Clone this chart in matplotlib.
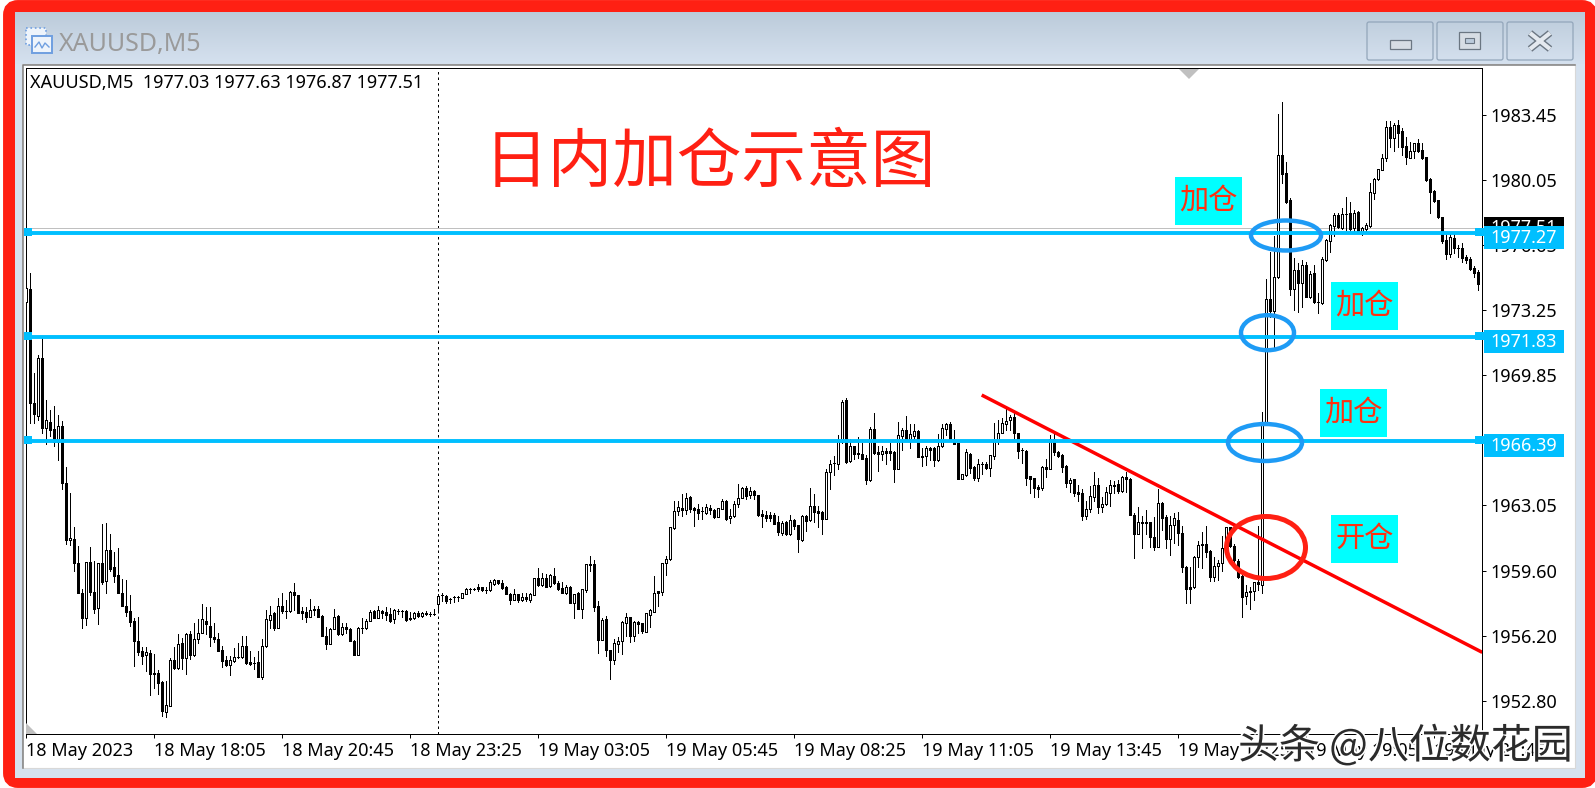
"""Recreate the XAUUSD M5 intraday position-adding chart."""

import numpy as np
import matplotlib
matplotlib.use('Agg')
import matplotlib.pyplot as plt
from matplotlib import patches
from matplotlib import patheffects

W, H = 1595, 788
CJK = ['Noto Sans CJK SC', 'DejaVu Sans']
UI_FONT = ['Noto Sans', 'DejaVu Sans']

opens = [
    1973.67, 1974.35, 1968.35, 1967.7, 1970.7, 1967.08, 1967.37, 1967.0, 1966.33, 1967.15,
    1964.2, 1961.19, 1961.26, 1959.97, 1958.4, 1957.12, 1960.03, 1958.5, 1957.64, 1959.97,
    1959.04, 1960.69, 1959.76, 1959.38, 1958.45, 1957.77, 1957.46, 1956.96, 1955.94, 1955.4,
    1955.17, 1955.31, 1954.26, 1954.26, 1953.76, 1952.2, 1952.54, 1954.9, 1954.51, 1955.8,
    1955.05, 1956.3, 1955.17, 1956.0, 1956.34, 1956.96, 1956.71, 1956.12, 1956.03, 1955.46,
    1954.94, 1954.65, 1954.87, 1955.1, 1955.1, 1955.67, 1954.83, 1954.78, 1954.83, 1954.04,
    1955.64, 1957.01, 1957.37, 1956.62, 1957.77, 1957.5, 1957.46, 1958.5, 1958.32, 1957.46,
    1957.41, 1957.19, 1957.61, 1957.61, 1957.2, 1956.18, 1955.76, 1956.53, 1957.2, 1956.27,
    1956.66, 1956.52, 1955.94, 1955.19, 1956.62, 1956.58, 1956.98, 1957.46, 1957.12, 1957.5,
    1957.41, 1957.34, 1957.07, 1957.46, 1957.46, 1957.48, 1957.1, 1957.1, 1957.37, 1957.22,
    1957.36, 1957.34, 1957.34, 1957.86, 1958.3, 1958.26, 1958.11, 1958.21, 1958.21, 1958.18,
    1958.39, 1958.66, 1958.65, 1958.72, 1958.72, 1958.58, 1958.56, 1958.91, 1959.08, 1958.96,
    1958.75, 1958.39, 1958.07, 1958.35, 1958.05, 1958.19, 1958.04, 1958.33, 1959.19, 1958.86,
    1959.2, 1958.79, 1959.33, 1958.96, 1958.7, 1958.42, 1958.72, 1957.88, 1958.4, 1957.6,
    1958.58, 1959.92, 1959.94, 1957.72, 1955.98, 1957.04, 1955.44, 1954.92, 1955.77, 1955.93,
    1956.87, 1957.15, 1956.19, 1956.92, 1956.83, 1956.4, 1957.27, 1957.44, 1958.53, 1958.49,
    1959.97, 1960.18, 1961.82, 1962.74, 1962.85, 1962.78, 1963.44, 1962.85, 1962.81, 1962.7,
    1962.59, 1962.85, 1962.76, 1962.41, 1962.83, 1963.23, 1962.33, 1962.47, 1963.09, 1963.42,
    1963.91, 1963.53, 1963.76, 1963.55, 1962.55, 1962.5, 1962.5, 1962.5, 1962.12, 1961.58,
    1962.13, 1961.51, 1962.26, 1961.96, 1961.19, 1962.45, 1962.22, 1963.0, 1962.74, 1962.66,
    1962.31, 1964.73, 1965.2, 1965.18, 1966.32, 1968.51, 1965.32, 1966.13, 1965.73, 1965.69,
    1965.48, 1964.33, 1966.98, 1965.78, 1965.71, 1965.83, 1965.85, 1965.79, 1964.92, 1966.65,
    1966.93, 1966.49, 1966.65, 1966.89, 1965.59, 1965.59, 1966.0, 1965.99, 1965.38, 1966.11,
    1967.01, 1967.26, 1966.44, 1966.25, 1964.41, 1964.59, 1965.72, 1965.04, 1964.45, 1965.19,
    1965.17, 1964.98, 1965.6, 1966.44, 1966.82, 1967.29, 1967.45, 1967.61, 1966.77, 1965.9,
    1965.85, 1964.52, 1964.42, 1963.95, 1963.91, 1965.03, 1964.92, 1966.46, 1965.78, 1965.62,
    1965.06, 1964.19, 1964.38, 1963.7, 1963.65, 1962.46, 1962.8, 1963.46, 1964.05, 1962.93,
    1963.07, 1963.67, 1964.1, 1964.12, 1963.77, 1964.47, 1964.38, 1962.53, 1961.52, 1962.12,
    1962.12, 1962.12, 1961.37, 1960.84, 1963.11, 1962.39, 1961.23, 1962.0, 1962.22, 1961.54,
    1959.78, 1958.72, 1958.72, 1960.29, 1960.97, 1960.97, 1960.64, 1959.28, 1959.84, 1959.98,
    1960.74, 1961.86, 1960.88, 1960.12, 1959.32, 1958.29, 1958.53, 1958.55, 1959.02, 1958.84,
    1967.35, 1973.8, 1973.17, 1974.93, 1981.32, 1980.37, 1978.98, 1974.34, 1975.32, 1974.66,
    1975.58, 1973.92, 1975.18, 1973.66, 1973.57, 1975.84, 1976.85, 1977.62, 1978.2, 1977.53,
    1978.25, 1978.28, 1977.53, 1978.37, 1977.27, 1977.45, 1977.62, 1979.36, 1980.06, 1980.55,
    1981.19, 1982.78, 1982.22, 1982.89, 1982.57, 1981.8, 1981.19, 1981.56, 1981.94, 1981.59,
    1981.21, 1980.08, 1979.45, 1978.96, 1978.07, 1976.89, 1976.14, 1976.97, 1976.49, 1976.49,
    1975.98, 1975.91, 1975.44, 1975.21,
]
highs = [
    1974.39, 1975.14, 1969.95, 1970.9, 1971.88, 1968.53, 1968.0, 1968.19, 1967.73, 1967.44,
    1965.04, 1963.68, 1961.89, 1960.9, 1958.63, 1960.03, 1960.83, 1960.1, 1959.97, 1962.03,
    1962.07, 1961.53, 1960.56, 1960.78, 1959.16, 1959.11, 1958.31, 1957.1, 1957.19, 1955.58,
    1955.58, 1955.46, 1955.22, 1954.42, 1953.83, 1953.83, 1955.0, 1955.58, 1956.26, 1956.08,
    1956.34, 1956.43, 1956.84, 1957.05, 1957.87, 1957.7, 1957.68, 1956.84, 1956.34, 1955.64,
    1955.14, 1955.14, 1955.53, 1955.8, 1956.16, 1956.16, 1955.4, 1955.08, 1955.37, 1956.03,
    1957.55, 1957.73, 1957.41, 1958.18, 1958.45, 1958.05, 1958.54, 1958.93, 1958.32, 1957.68,
    1957.7, 1958.09, 1957.73, 1957.73, 1957.28, 1956.66, 1956.6, 1957.61, 1957.28, 1956.84,
    1956.84, 1956.57, 1955.98, 1956.66, 1957.14, 1957.05, 1957.55, 1957.55, 1957.73, 1957.55,
    1957.68, 1957.64, 1957.59, 1957.6, 1957.53, 1957.51, 1957.41, 1957.44, 1957.46, 1957.41,
    1957.46, 1957.41, 1957.57, 1958.37, 1958.4, 1958.3, 1958.14, 1958.28, 1958.26, 1958.44,
    1958.68, 1958.67, 1958.67, 1958.87, 1958.75, 1958.72, 1959.08, 1959.15, 1959.1, 1959.08,
    1958.79, 1958.42, 1958.61, 1958.37, 1958.44, 1958.4, 1958.4, 1959.19, 1959.73, 1959.48,
    1959.41, 1959.41, 1959.73, 1959.07, 1959.01, 1958.84, 1958.8, 1958.39, 1958.49, 1958.66,
    1959.94, 1960.36, 1960.15, 1958.0, 1957.1, 1957.22, 1955.44, 1956.0, 1956.1, 1956.96,
    1957.36, 1957.18, 1956.94, 1956.96, 1956.87, 1957.39, 1957.6, 1959.34, 1958.53, 1960.02,
    1960.36, 1961.86, 1963.23, 1963.23, 1963.6, 1963.65, 1963.48, 1962.94, 1963.08, 1962.94,
    1963.06, 1963.01, 1962.83, 1962.85, 1963.34, 1963.27, 1962.8, 1963.23, 1964.12, 1963.98,
    1964.02, 1963.98, 1963.81, 1963.55, 1962.76, 1962.73, 1962.67, 1962.59, 1962.47, 1962.17,
    1962.17, 1962.5, 1962.29, 1961.96, 1962.5, 1962.5, 1963.91, 1963.58, 1963.0, 1962.71,
    1964.89, 1965.38, 1965.59, 1966.68, 1968.51, 1968.65, 1966.46, 1966.14, 1966.6, 1966.25,
    1965.64, 1967.12, 1967.82, 1966.11, 1966.14, 1966.0, 1966.25, 1965.86, 1967.35, 1967.03,
    1967.68, 1967.26, 1967.26, 1966.94, 1965.99, 1966.14, 1966.07, 1966.07, 1966.72, 1967.26,
    1967.33, 1967.35, 1966.94, 1966.25, 1964.65, 1965.95, 1965.76, 1965.08, 1965.46, 1965.29,
    1965.29, 1965.66, 1967.33, 1967.47, 1967.56, 1968.17, 1967.73, 1967.9, 1966.81, 1965.99,
    1965.93, 1964.54, 1964.45, 1964.07, 1965.06, 1965.41, 1966.68, 1966.86, 1965.86, 1965.72,
    1965.1, 1964.42, 1964.4, 1964.07, 1963.86, 1963.25, 1964.02, 1964.73, 1964.42, 1963.46,
    1963.98, 1964.33, 1964.28, 1964.33, 1964.54, 1964.77, 1964.42, 1962.59, 1962.93, 1962.45,
    1962.76, 1962.15, 1962.41, 1963.86, 1963.2, 1962.53, 1962.45, 1962.59, 1962.67, 1961.94,
    1959.83, 1959.8, 1960.36, 1961.14, 1961.6, 1961.93, 1960.67, 1960.29, 1960.15, 1961.41,
    1961.9, 1961.9, 1960.99, 1960.19, 1959.37, 1958.84, 1958.76, 1959.02, 1961.93, 1967.89,
    1974.83, 1976.28, 1977.1, 1983.48, 1984.09, 1980.95, 1979.07, 1975.93, 1975.67, 1975.84,
    1975.75, 1975.28, 1975.58, 1974.1, 1976.0, 1976.92, 1977.72, 1978.28, 1978.28, 1978.54,
    1979.15, 1978.89, 1978.46, 1978.42, 1977.58, 1977.8, 1979.85, 1980.11, 1980.62, 1981.37,
    1983.11, 1983.13, 1982.99, 1983.16, 1982.75, 1982.26, 1982.03, 1981.98, 1982.15, 1981.94,
    1981.25, 1980.11, 1979.5, 1978.98, 1978.11, 1977.24, 1977.29, 1977.24, 1976.63, 1976.75,
    1976.1, 1976.0, 1975.53, 1975.32,
]
lows = [
    1973.23, 1967.31, 1967.31, 1967.46, 1966.78, 1966.2, 1966.65, 1966.1, 1965.4, 1963.87,
    1961.0, 1960.92, 1959.6, 1958.41, 1956.57, 1956.75, 1958.3, 1957.37, 1956.8, 1958.9,
    1958.4, 1959.56, 1959.02, 1958.45, 1957.73, 1957.2, 1956.69, 1954.6, 1955.17, 1954.69,
    1954.37, 1953.07, 1953.47, 1953.16, 1952.0, 1951.95, 1952.54, 1954.45, 1954.47, 1954.47,
    1954.19, 1954.96, 1955.13, 1955.8, 1956.34, 1956.27, 1955.64, 1955.85, 1955.37, 1954.54,
    1954.6, 1954.11, 1954.8, 1955.05, 1955.05, 1954.69, 1954.65, 1954.47, 1954.04, 1953.94,
    1955.58, 1956.57, 1956.48, 1956.62, 1957.37, 1957.1, 1957.43, 1957.55, 1957.37, 1957.07,
    1956.93, 1957.15, 1957.25, 1957.17, 1956.18, 1955.49, 1955.76, 1956.53, 1956.21, 1956.21,
    1956.34, 1955.9, 1955.19, 1955.19, 1956.34, 1956.53, 1956.94, 1957.1, 1957.1, 1957.1,
    1957.0, 1956.89, 1956.87, 1957.32, 1957.18, 1956.97, 1957.01, 1957.06, 1957.15, 1957.15,
    1957.25, 1957.24, 1957.25, 1957.5, 1958.02, 1957.88, 1957.92, 1957.98, 1958.02, 1958.14,
    1958.37, 1958.4, 1958.58, 1958.51, 1958.54, 1958.4, 1958.53, 1958.86, 1958.91, 1958.65,
    1958.37, 1957.85, 1958.05, 1957.97, 1958.0, 1958.02, 1957.97, 1958.3, 1958.79, 1958.79,
    1958.73, 1958.75, 1958.87, 1958.58, 1958.4, 1958.37, 1957.88, 1957.13, 1957.6, 1957.13,
    1958.49, 1959.59, 1957.5, 1955.3, 1955.96, 1955.13, 1953.94, 1954.71, 1955.32, 1955.23,
    1956.17, 1955.88, 1955.91, 1956.31, 1956.31, 1956.38, 1956.66, 1957.43, 1957.74, 1958.32,
    1959.36, 1960.15, 1961.75, 1962.5, 1962.47, 1962.55, 1962.64, 1961.93, 1962.27, 1962.27,
    1962.55, 1962.55, 1962.33, 1962.4, 1962.8, 1962.24, 1962.1, 1962.41, 1962.9, 1963.37,
    1963.34, 1963.37, 1963.34, 1962.47, 1961.89, 1962.2, 1962.2, 1962.03, 1961.44, 1961.44,
    1961.47, 1961.45, 1961.75, 1960.58, 1961.16, 1961.68, 1962.19, 1962.15, 1961.89, 1961.52,
    1962.27, 1963.86, 1964.59, 1964.92, 1966.28, 1965.2, 1965.27, 1965.46, 1965.48, 1965.45,
    1964.12, 1964.3, 1965.71, 1964.8, 1965.38, 1965.17, 1965.38, 1964.23, 1964.89, 1965.92,
    1966.42, 1966.0, 1966.42, 1965.52, 1965.06, 1965.11, 1965.38, 1965.08, 1965.34, 1966.07,
    1966.68, 1966.35, 1966.2, 1964.4, 1964.4, 1964.56, 1964.71, 1964.36, 1964.28, 1964.63,
    1964.92, 1964.54, 1965.45, 1966.21, 1966.79, 1966.94, 1966.94, 1966.42, 1965.5, 1965.2,
    1964.05, 1963.63, 1963.46, 1963.46, 1963.81, 1964.5, 1964.89, 1965.64, 1965.52, 1964.77,
    1963.98, 1963.72, 1963.51, 1963.25, 1962.24, 1962.29, 1962.67, 1963.25, 1962.62, 1962.66,
    1963.02, 1962.97, 1963.67, 1963.67, 1963.72, 1963.72, 1962.52, 1960.25, 1961.5, 1960.76,
    1961.5, 1960.85, 1960.7, 1960.81, 1961.71, 1960.76, 1960.41, 1961.02, 1960.93, 1959.54,
    1957.92, 1957.92, 1958.68, 1959.76, 1959.72, 1960.33, 1959.05, 1959.05, 1959.1, 1959.59,
    1960.71, 1960.85, 1959.98, 1959.19, 1957.15, 1957.85, 1957.59, 1958.06, 1958.58, 1958.44,
    1967.2, 1972.88, 1971.31, 1974.88, 1979.85, 1978.8, 1974.01, 1973.23, 1973.14, 1973.4,
    1973.89, 1973.84, 1973.61, 1973.09, 1973.54, 1975.81, 1976.28, 1977.09, 1977.5, 1977.45,
    1977.41, 1977.38, 1977.38, 1977.24, 1977.15, 1977.32, 1977.58, 1979.03, 1980.03, 1980.55,
    1981.04, 1981.77, 1981.54, 1981.77, 1981.33, 1980.86, 1981.16, 1981.16, 1981.51, 1981.14,
    1980.0, 1978.28, 1978.89, 1978.06, 1976.71, 1975.88, 1976.0, 1976.19, 1976.0, 1975.75,
    1975.67, 1975.32, 1974.97, 1974.27,
]
closes = [
    1974.39, 1968.34, 1967.8, 1970.7, 1967.08, 1967.46, 1966.97, 1966.33, 1967.15, 1964.2,
    1961.2, 1961.3, 1960.0, 1958.41, 1957.12, 1960.03, 1958.48, 1957.59, 1959.97, 1959.02,
    1960.69, 1959.7, 1959.34, 1958.45, 1957.73, 1957.41, 1956.89, 1955.94, 1955.35, 1955.13,
    1955.35, 1954.19, 1954.19, 1953.72, 1952.27, 1952.59, 1954.9, 1954.51, 1955.76, 1955.01,
    1956.3, 1955.17, 1956.03, 1956.34, 1957.05, 1956.78, 1956.12, 1956.0, 1955.37, 1954.87,
    1954.65, 1954.9, 1955.1, 1955.08, 1955.67, 1954.78, 1954.72, 1954.76, 1954.04, 1955.67,
    1957.05, 1957.28, 1956.62, 1957.77, 1957.46, 1957.48, 1958.5, 1958.32, 1957.37, 1957.37,
    1957.17, 1957.55, 1957.53, 1957.17, 1956.18, 1955.76, 1956.52, 1957.17, 1956.27, 1956.66,
    1956.52, 1955.94, 1955.19, 1956.62, 1956.6, 1956.98, 1957.45, 1957.12, 1957.52, 1957.37,
    1957.25, 1956.98, 1957.55, 1957.46, 1957.46, 1957.01, 1957.04, 1957.39, 1957.2, 1957.36,
    1957.34, 1957.33, 1957.33, 1958.26, 1958.3, 1958.0, 1958.09, 1958.2, 1958.2, 1958.4,
    1958.61, 1958.66, 1958.65, 1958.61, 1958.58, 1958.57, 1958.98, 1959.08, 1958.94, 1958.7,
    1958.39, 1958.07, 1958.35, 1958.07, 1958.19, 1958.11, 1958.35, 1959.19, 1958.86, 1959.19,
    1958.75, 1959.38, 1958.94, 1958.63, 1958.44, 1958.73, 1957.92, 1958.39, 1957.6, 1958.63,
    1959.94, 1959.9, 1957.71, 1955.98, 1956.99, 1955.44, 1954.92, 1955.79, 1955.93, 1956.89,
    1957.15, 1956.19, 1956.9, 1956.8, 1956.43, 1957.36, 1957.53, 1958.4, 1958.4, 1959.99,
    1960.18, 1961.86, 1962.74, 1962.9, 1962.78, 1963.42, 1962.81, 1962.76, 1962.62, 1962.69,
    1962.9, 1962.76, 1962.41, 1962.85, 1963.22, 1962.27, 1962.47, 1963.08, 1963.42, 1963.91,
    1963.49, 1963.76, 1963.53, 1962.5, 1962.47, 1962.34, 1962.34, 1962.06, 1961.61, 1962.1,
    1961.51, 1962.22, 1961.93, 1961.26, 1962.45, 1962.19, 1963.0, 1962.67, 1962.62, 1962.31,
    1964.73, 1965.15, 1965.2, 1966.35, 1968.44, 1965.27, 1966.09, 1965.69, 1965.72, 1965.45,
    1964.33, 1966.98, 1965.74, 1965.71, 1965.85, 1965.76, 1965.76, 1964.92, 1966.67, 1966.93,
    1966.47, 1966.72, 1966.89, 1965.53, 1965.52, 1965.99, 1965.92, 1965.39, 1966.14, 1967.03,
    1967.26, 1966.42, 1966.23, 1964.4, 1964.63, 1965.78, 1964.98, 1964.43, 1965.15, 1965.18,
    1964.98, 1965.62, 1966.44, 1966.82, 1967.33, 1967.43, 1967.63, 1966.81, 1965.86, 1965.89,
    1964.45, 1964.38, 1963.93, 1963.88, 1965.04, 1964.92, 1966.46, 1965.81, 1965.6, 1965.03,
    1964.19, 1964.31, 1963.67, 1963.6, 1962.46, 1962.8, 1963.48, 1964.05, 1962.92, 1963.09,
    1963.69, 1964.1, 1964.02, 1963.75, 1964.49, 1964.38, 1962.52, 1961.52, 1962.12, 1962.11,
    1962.11, 1961.37, 1960.84, 1963.11, 1962.36, 1961.26, 1961.96, 1962.34, 1961.58, 1959.8,
    1958.65, 1958.65, 1960.29, 1960.96, 1960.95, 1960.59, 1959.28, 1959.84, 1959.98, 1960.76,
    1961.86, 1960.88, 1960.15, 1959.28, 1958.23, 1958.46, 1958.46, 1958.98, 1958.9, 1967.35,
    1973.8, 1973.17, 1974.93, 1981.32, 1980.32, 1978.89, 1974.34, 1975.32, 1974.66, 1975.56,
    1973.92, 1975.11, 1973.66, 1973.64, 1975.88, 1976.89, 1977.66, 1978.2, 1977.55, 1978.25,
    1978.24, 1977.45, 1978.32, 1977.27, 1977.5, 1977.66, 1979.38, 1980.08, 1980.58, 1981.19,
    1982.78, 1982.22, 1982.92, 1982.5, 1981.77, 1981.21, 1981.56, 1981.94, 1981.54, 1981.19,
    1980.03, 1979.41, 1978.93, 1978.07, 1976.85, 1976.14, 1977.03, 1976.45, 1976.48, 1975.93,
    1975.84, 1975.37, 1975.18, 1974.59,
]

price_ticks = [1983.45, 1980.05, 1976.65, 1973.25, 1969.85, 1966.45,
               1963.05, 1959.60, 1956.20, 1952.80]
time_tick_bars = [0, 32, 64, 96, 128, 160, 192, 224, 256, 288, 320, 352]
time_labels = ['18 May 2023', '18 May 18:05', '18 May 20:45', '18 May 23:25',
               '19 May 03:05', '19 May 05:45', '19 May 08:25', '19 May 11:05',
               '19 May 13:45', '19 May 16:25', '19 May 19:05', '19 May 21:45']
level_prices = [1977.27, 1971.83, 1966.39]
last_close = 1977.51
separator_bar = 103
trend_bars = [238.85, 364.0]
trend_prices = [1968.78, 1955.32]
header = 'XAUUSD,M5  1977.03 1977.63 1976.87 1977.51'
chart_title = '日内加仓示意图'

BLUE = '#00bfff'
RED = '#ff2013'
TICK_SIZE = 13.0


def px_axes(fig, zorder):
    """Add a full-figure transparent axes that works in image pixels."""
    ax = fig.add_axes([0, 0, 1, 1], zorder=zorder)
    ax.set_xlim(0, W)
    ax.set_ylim(H, 0)
    ax.axis('off')
    ax.patch.set_alpha(0)
    return ax


def draw_window(ax):
    """Draw the red border and the terminal window frame."""
    ax.add_patch(patches.FancyBboxPatch(
        (10, 7), W - 15, H - 14, boxstyle='round,pad=0,rounding_size=8',
        fc=RED, ec=RED, lw=10))
    ax.add_patch(patches.Rectangle((15, 12), 1570, 766, fc='#d6e2ef', ec='none'))
    shades = np.linspace(0, 1, 52)[:, None, None]
    top = np.array([0.737, 0.796, 0.855])
    bottom = np.array([0.835, 0.882, 0.937])
    ax.imshow(top + (bottom - top) * shades, extent=(15, 1585, 64, 12),
              aspect='auto', zorder=1)
    ax.set_xlim(0, W)
    ax.set_ylim(H, 0)
    ax.add_patch(patches.Rectangle((22, 64), 1553, 704, fc='white', ec='#d8d8d8',
                                   lw=0.8, zorder=2))
    ax.plot([22.5, 22.5, 1575], [768, 64.5, 64.5], color='#808080', lw=1.1, zorder=3)
    ax.text(59, 44, 'XAUUSD,M5', color='#9a9a9a', fontsize=18, va='center',
            family=UI_FONT, zorder=3)
    # window icon
    ax.add_patch(patches.Rectangle((26, 28), 20, 17, fc='#eef4fb', ec='#6f9fe0',
                                   lw=1.2, ls=':', zorder=3))
    ax.add_patch(patches.Rectangle((32, 36), 20, 17, fc='#eef4fb', ec='#6f9fe0',
                                   lw=1.4, zorder=3))
    ax.plot([35, 39, 42, 45, 49], [47, 42, 48, 43, 47], color='#6f9fe0', lw=1,
            zorder=4)
    # window buttons
    for left in (1367, 1437, 1507):
        ax.add_patch(patches.FancyBboxPatch(
            (left, 22), 66, 38, boxstyle='round,pad=0,rounding_size=2',
            fc='none', ec='#93a6ba', lw=0.9, zorder=3))
    ax.add_patch(patches.Rectangle((1390, 40), 21, 9, fc='#d7dde4', ec='#6b7682',
                                   lw=0.9, zorder=4))
    ax.add_patch(patches.Rectangle((1459, 32), 21, 17, fc='#d7dde4', ec='#6b7682',
                                   lw=0.9, zorder=4))
    ax.add_patch(patches.Rectangle((1465, 38), 9, 5, fc='#bccbdb', ec='#6b7682',
                                   lw=0.8, zorder=5))
    for xs in ([1530, 1550], [1550, 1530]):
        ax.plot(xs, [33, 49], color='#6b7682', lw=5, zorder=4,
                solid_capstyle='butt')
        ax.plot(xs, [33, 49], color='#e4e9ef', lw=3, zorder=5,
                solid_capstyle='butt')


def draw_chart(ax):
    """Draw candles, levels and axes on price/bar scales."""
    o = np.array(opens)
    h = np.array(highs)
    l = np.array(lows)
    c = np.array(closes)
    bars = np.arange(len(o))
    ax.vlines(bars, l, h, color='black', lw=0.72, zorder=2, antialiased=False)
    ax.bar(bars, np.abs(c - o), bottom=np.minimum(o, c), width=0.5,
           color=np.where(c > o, 'white', 'black').tolist(), edgecolor='black',
           linewidth=0.72, zorder=3, antialiased=False)
    ax.axvline(separator_bar, color='black', lw=0.72, ls=(0, (2.5, 3)), zorder=1)
    ax.axhline(last_close, color='#c0c0c0', lw=0.72, zorder=1)
    ax.plot(trend_bars, trend_prices, color='#ff0000', lw=2.5, zorder=4,
            solid_capstyle='butt')
    for level in level_prices:
        ax.axhline(level, color=BLUE, lw=2.8, zorder=5)

    ax.set_xlim((25.5 - 26.3) / 4, (1482.3 - 26.3) / 4)
    ax.set_ylim(1951.05, 1985.87)
    ax.yaxis.tick_right()
    ax.set_yticks(price_ticks, [f'{p:.2f}' for p in price_ticks])
    ax.set_xticks(time_tick_bars, time_labels, ha='left')
    ax.tick_params(axis='both', length=3, width=0.72, labelsize=TICK_SIZE, pad=3)
    ax.tick_params(axis='x', pad=3)
    for label in ax.get_xticklabels() + ax.get_yticklabels():
        label.set_family(UI_FONT)
    for spine in ax.spines.values():
        spine.set_linewidth(0.72)


def draw_notes(ax):
    """Draw the hand-made overlays: tags, ellipses, cyan notes and watermark."""
    # price tags on the right
    ax.add_patch(patches.Rectangle((1484, 217), 80, 22, fc='black', ec='none', zorder=2))
    ax.text(1524, 228, f'{last_close:.2f}', color='white', fontsize=TICK_SIZE,
            ha='center', va='center', family=UI_FONT, zorder=3)
    for level, top in zip(level_prices, (226, 330, 434)):
        ax.add_patch(patches.Rectangle((1484, top), 80, 23, fc=BLUE, ec='none', zorder=4))
        ax.text(1524, top + 11.5, f'{level:.2f}', color='white', fontsize=TICK_SIZE,
                ha='center', va='center', family=UI_FONT, zorder=5)
    # line handles
    for mid in (232, 336, 440):
        ax.add_patch(patches.Rectangle((24, mid - 4), 8, 8, fc=BLUE, ec='none', zorder=4))
        ax.add_patch(patches.Rectangle((1475, mid - 4), 9, 8, fc=BLUE, ec='none', zorder=4))
    # corner markers
    ax.add_patch(patches.Polygon([(1179, 69), (1199, 69), (1189, 79)], fc='#c0c0c0',
                                 ec='none', zorder=2))
    ax.add_patch(patches.Polygon([(26, 723), (26, 734), (37, 734)], fc='#c0c0c0',
                                 ec='none', zorder=2))
    ax.text(30, 83, header, color='black', fontsize=13.0, va='center',
            family=UI_FONT, zorder=3)
    ax.text(710, 164, chart_title, color=RED, fontsize=46.5, ha='center', va='center',
            family=CJK, zorder=6)
    # marker ellipses
    for cx, cy, ew, eh in ((1286, 235.5, 70, 30), (1267.5, 332.7, 53, 35),
                           (1265, 442.5, 74, 37)):
        ax.add_patch(patches.Ellipse((cx, cy), ew, eh, fc='none', ec='#1e9bf5',
                                     lw=3.2, zorder=6))
    ax.add_patch(patches.Ellipse((1266, 547.5), 79, 62, fc='none', ec=RED, lw=3.6,
                                 zorder=6))
    # cyan notes
    for left, top, note in ((1175, 177, '加仓'), (1331, 282, '加仓'),
                            (1320, 389, '加仓'), (1331, 515, '开仓')):
        ax.add_patch(patches.Rectangle((left, top), 67, 48, fc='#00ffff', ec='none',
                                       zorder=5))
        ax.text(left + 33.5, top + 24, note, color='#ff3010', fontsize=21, ha='center',
                va='center', family=CJK, zorder=6)
    # watermark
    ax.text(1238, 746, '头条 @八位数花园', color='#2b2b2b', fontsize=29.5, va='center',
            family=CJK, zorder=7,
            path_effects=[patheffects.withStroke(linewidth=2.5, foreground='white')])


def main():
    """Build the figure and save it."""
    fig = plt.figure(figsize=(W / 100, H / 100), dpi=100, facecolor='white')
    back = px_axes(fig, 0)
    draw_window(back)

    chart = fig.add_axes([25.5 / W, 1 - 734 / H, (1482.3 - 25.5) / W, (734 - 68.3) / H],
                         zorder=1)
    draw_chart(chart)

    front = px_axes(fig, 2)
    draw_notes(front)

    fig.savefig('out.png', dpi=100)


if __name__ == '__main__':
    main()
